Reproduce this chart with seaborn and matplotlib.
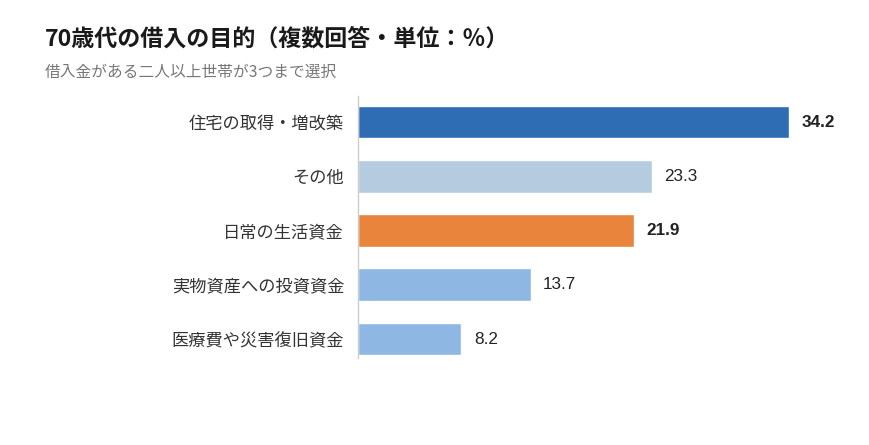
import matplotlib
matplotlib.use("Agg")
import matplotlib.pyplot as plt
import seaborn as sns
import pandas as pd

categories = ["住宅の取得・増改築", "その他", "日常の生活資金", "実物資産への投資資金", "医療費や災害復旧資金"]
values = [34.2, 23.3, 21.9, 13.7, 8.2]
colors = ["#2E6DB4", "#B5CBE0", "#E8843C", "#8EB8E3", "#8EB8E3"]
bold_labels = [True, False, True, False, False]

sns.set_theme(style="white")
plt.rcParams['font.family'] = ['Noto Sans CJK JP', 'DejaVu Sans']

df = pd.DataFrame({"cat": categories, "val": values})

fig = plt.figure(figsize=(8.7, 4.45), dpi=100)
ax = fig.add_axes([358/870, 1 - 358/445, (860-358)/870, (358-96)/445])

sns.barplot(data=df, x="val", y="cat", hue="cat", palette=colors, legend=False,
            width=0.6, ax=ax, orient="h", saturation=1)

ax.set_xlim(0, 502/12.6)
ax.set_ylim(4.35, -0.48)
ax.set_xlabel("")
ax.set_ylabel("")
ax.set_xticks([])
for s in ["top", "right", "bottom"]:
    ax.spines[s].set_visible(False)
ax.spines["left"].set_color("#CCCCCC")
ax.spines["left"].set_linewidth(1)
ax.tick_params(axis="y", length=0, pad=10, labelsize=12.4, labelcolor="#333333")

for i, (v, b) in enumerate(zip(values, bold_labels)):
    ax.text(v + 1.0, i, f"{v:.1f}", va="center", ha="left", fontsize=12.3,
            fontweight="bold" if b else "normal", color="#222222",
            family=["Liberation Sans", "DejaVu Sans"])

fig.text(45/870, 1 - 39/445, "70歳代の借入の目的（複数回答・単位：％）", fontsize=16.6,
         fontweight="bold", color="#1a1a1a", va="center", ha="left")
fig.text(45/870, 1 - 72/445, "借入金がある二人以上世帯が3つまで選択", fontsize=11.3,
         color="#777777", va="center", ha="left")

fig.savefig("out.png", dpi=100)
